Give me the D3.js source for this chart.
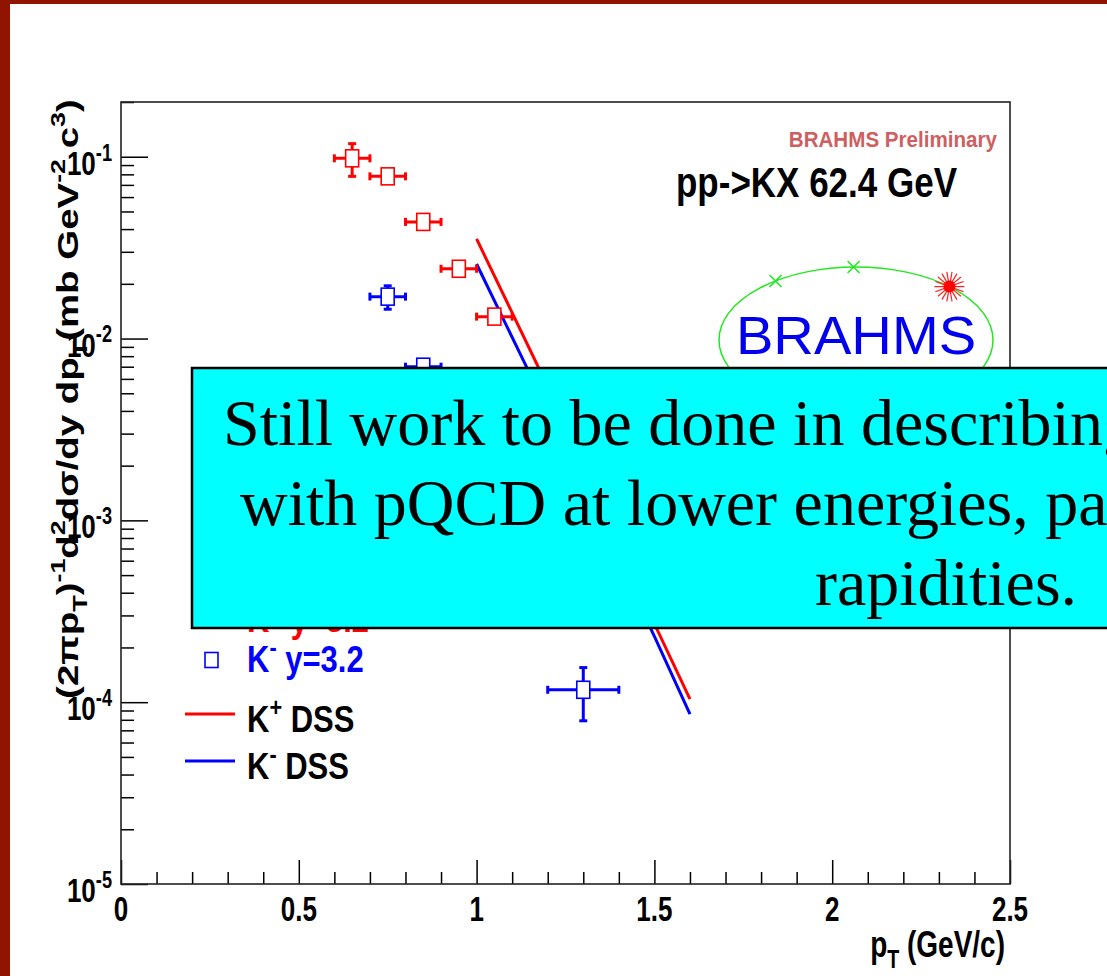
<!DOCTYPE html>
<html>
<head>
<meta charset="utf-8">
<script src="https://cdn.jsdelivr.net/npm/d3@7"></script>
<style>
  html, body { margin: 0; padding: 0; background: #fff; overflow: hidden; }
  svg { display: block; }
</style>
</head>
<body>
<svg id="chart" width="1107" height="976"></svg>
<script>
// data
const kPlusPt = [0.65, 0.75, 0.85, 0.95, 1.05];
const kPlusY  = [0.098, 0.078, 0.0438, 0.0242, 0.0132];
const kPlusEx = [0.05, 0.05, 0.05, 0.05, 0.05];
const kPlusEy = [0.02, 0.005, 0.003, 0.0015, 0.0008];

const kMinusPt = [0.75, 0.85, 1.3];
const kMinusY  = [0.0170, 0.0070, 1.17e-4];
const kMinusEx = [0.05, 0.05, 0.1];
const kMinusEy = [0.0025, 0.0004, 3.8e-5];

const dssPlusPt  = [1.0, 1.17, 1.5, 1.6];
const dssPlusY   = [0.0353, 0.0072, 2.7e-4, 1.04e-4];
const dssMinusPt = [1.0, 1.14, 1.5, 1.6];
const dssMinusY  = [0.0257, 0.0070, 2.3e-4, 8.6e-5];

const yMajorTicks = [1e-5, 1e-4, 1e-3, 1e-2, 1e-1];
const yTickExp = ['-5', '-4', '-3', '-2', '-1'];
const xMajorTicks = [0, 0.5, 1, 1.5, 2, 2.5];
const xTickLabels = ['0', '0.5', '1', '1.5', '2', '2.5'];

const boxLines = ['Still work to be done in describing',
                  'with pQCD at lower energies, particularly',
                  'rapidities.'];

const SY = 1.22;   // plot image is stretched vertically
const RED = '#ff0000', BLUE = '#0000ff';
const SANS = "'Liberation Sans', Arial, Helvetica, sans-serif";

const svg = d3.select('#chart');
const frame = { left: 121, top: 102, right: 1010, bottom: 884 };

// slide background with dark red edge
svg.append('rect').attr('width', 1107).attr('height', 976).attr('fill', '#911400');
svg.append('rect').attr('x', 10).attr('y', 4).attr('width', 1097).attr('height', 972).attr('fill', '#fff');

const x = d3.scaleLinear().domain([0, 2.5]).range([frame.left, frame.right]);
const y = d3.scaleLog().domain([1e-5, 0.2]).range([frame.bottom, frame.top]);

// minor ticks
const yMinorTicks = [];
for (let e = -5; e <= -1; e++) for (let k = 2; k <= 9; k++) {
  const v = k * Math.pow(10, e);
  if (v <= 0.2) yMinorTicks.push(v);
}
const xMinorTicks = d3.range(0, 26).map(i => i / 10).filter(v => !xMajorTicks.includes(+v.toFixed(1)));

function cleanAxis(g) {
  g.select('.domain').remove();
  g.selectAll('line').attr('stroke', '#000').attr('stroke-width', 1.5);
}

svg.append('g').attr('transform', `translate(${frame.left},0)`)
  .call(d3.axisLeft(y).tickValues(yMajorTicks).tickSize(-27).tickFormat(''))
  .call(cleanAxis);
svg.append('g').attr('transform', `translate(${frame.left},0)`)
  .call(d3.axisLeft(y).tickValues(yMinorTicks).tickSize(-13).tickFormat(''))
  .call(cleanAxis);
svg.append('g').attr('transform', `translate(0,${frame.bottom})`)
  .call(d3.axisBottom(x).tickValues(xMajorTicks).tickSize(-24).tickFormat(''))
  .call(cleanAxis);
svg.append('g').attr('transform', `translate(0,${frame.bottom})`)
  .call(d3.axisBottom(x).tickValues(xMinorTicks).tickSize(-12).tickFormat(''))
  .call(cleanAxis);

svg.append('rect')
  .attr('x', frame.left).attr('y', frame.top)
  .attr('width', frame.right - frame.left).attr('height', frame.bottom - frame.top)
  .attr('fill', 'none').attr('stroke', '#222').attr('stroke-width', 1.6);

// text with sub/superscripts
function rich(sel, parts, base) {
  let shift = 0;
  parts.forEach(([s, kind]) => {
    const target = kind === 'sup' ? -base * 0.42 : kind === 'sub' ? base * 0.3 : 0;
    sel.append('tspan')
      .attr('dy', target - shift)
      .attr('font-size', kind === 'n' ? base : base * 0.7)
      .text(s);
    shift = target;
  });
}

function label(x0, y0, parts, size, opts = {}) {
  const sy = opts.sy || SY;
  const t = svg.append('text')
    .attr('transform', `translate(${x0},${y0}) scale(1,${sy})${opts.rot ? ' rotate(-90)' : ''}`)
    .attr('font-family', SANS)
    .attr('font-weight', opts.weight || 'bold')
    .attr('font-size', size)
    .attr('fill', opts.color || '#000')
    .attr('text-anchor', opts.anchor || 'start');
  rich(t, parts, size);
  return t;
}

// tick labels
yMajorTicks.forEach((v, i) => {
  label(112, y(v) + 18, [['10', 'n'], [yTickExp[i], 'sup']], 26, { anchor: 'end', sy: 1.3 });
});
xMajorTicks.forEach((v, i) => {
  label(x(v), 921, [[xTickLabels[i], 'n']], 26, { anchor: 'middle', sy: 1.35 });
});

// axis titles
label(1005, 957, [['p', 'n'], ['T', 'sub'], [' (GeV/c)', 'n']], 28, { anchor: 'end', sy: 1.35 });

const yTitle = label(78, 399, [
  ['(2πp', 'n'], ['T', 'sub'], [')', 'n'], ['-1', 'sup'], ['d', 'n'], ['2', 'sup'],
  ['dσ/dy dp', 'n'], ['T', 'sub'], ['(mb GeV', 'n'], ['-2', 'sup'], [' c', 'n'], ['3', 'sup'], [')', 'n']
], 30, { anchor: 'middle', rot: true, sy: 1 });
const titleLen = yTitle.node().getComputedTextLength();
yTitle.attr('transform', `translate(78,399) scale(1,${600 / titleLen}) rotate(-90)`);

// labels in the plot
label(997, 147, [['BRAHMS Preliminary', 'n']], 20.6, { anchor: 'end', color: '#cf5f5f', sy: 1.05 });
label(957, 197, [['pp->KX 62.4 GeV', 'n']], 35, { anchor: 'end' });

// BRAHMS logo
const logo = { cx: 856, cy: 340, rx: 137, ry: 73 };
svg.append('ellipse')
  .attr('cx', logo.cx).attr('cy', logo.cy).attr('rx', logo.rx).attr('ry', logo.ry)
  .attr('fill', 'none').attr('stroke', '#1ee81e').attr('stroke-width', 1.5);
[126, 91].forEach(a => {
  const px = logo.cx + logo.rx * Math.cos(a * Math.PI / 180);
  const py = logo.cy - logo.ry * Math.sin(a * Math.PI / 180);
  svg.append('path').attr('d', `M${px - 6},${py - 6}L${px + 6},${py + 6}M${px - 6},${py + 6}L${px + 6},${py - 6}`)
    .attr('stroke', '#1ee81e').attr('stroke-width', 1.5);
});
{
  const a = 47 * Math.PI / 180;
  const px = logo.cx + logo.rx * Math.cos(a), py = logo.cy - logo.ry * Math.sin(a);
  const star = svg.append('g').attr('transform', `translate(${px},${py})`);
  d3.range(0, 360, 20).forEach(d => {
    const r = d * Math.PI / 180;
    star.append('line').attr('x2', 15 * Math.cos(r)).attr('y2', 15 * Math.sin(r))
      .attr('stroke', '#ff2020').attr('stroke-width', 1.2);
  });
  star.append('circle').attr('r', 6).attr('fill', '#ff0000');
}
svg.append('text')
  .attr('transform', 'translate(856,354) scale(1.04,1)')
  .attr('text-anchor', 'middle')
  .attr('font-family', SANS).attr('font-size', 54)
  .attr('fill', '#0000ee')
  .text('BRAHMS');

// DSS curves
const line = d3.line().x(d => x(d[0])).y(d => y(d[1]));
svg.append('path').datum(d3.zip(dssPlusPt, dssPlusY)).attr('d', line)
  .attr('fill', 'none').attr('stroke', RED).attr('stroke-width', 3);
svg.append('path').datum(d3.zip(dssMinusPt, dssMinusY)).attr('d', line)
  .attr('fill', 'none').attr('stroke', BLUE).attr('stroke-width', 3);

// data points with error bars
function drawPoints(pts, vals, exs, eys, color) {
  const g = svg.append('g').attr('stroke', color).attr('stroke-width', 3);
  pts.forEach((p, i) => {
    const cx = x(p), cy = y(vals[i]);
    const x0 = x(p - exs[i]), x1 = x(p + exs[i]);
    g.append('line').attr('x1', x0).attr('x2', x1).attr('y1', cy).attr('y2', cy);
    g.append('line').attr('x1', x0).attr('x2', x0).attr('y1', cy - 4).attr('y2', cy + 4);
    g.append('line').attr('x1', x1).attr('x2', x1).attr('y1', cy - 4).attr('y2', cy + 4);
    const yt = y(vals[i] + eys[i]), yb = y(vals[i] - eys[i]);
    if (cy - yt > 9) {
      g.append('line').attr('x1', cx).attr('x2', cx).attr('y1', yt).attr('y2', yb);
      g.append('line').attr('x1', cx - 4).attr('x2', cx + 4).attr('y1', yt).attr('y2', yt);
      g.append('line').attr('x1', cx - 4).attr('x2', cx + 4).attr('y1', yb).attr('y2', yb);
    }
    g.append('rect').attr('x', cx - 6.5).attr('y', cy - 8.5).attr('width', 13).attr('height', 17)
      .attr('fill', '#fff').attr('stroke-width', 1.6);
  });
}
drawPoints(kPlusPt, kPlusY, kPlusEx, kPlusEy, RED);
drawPoints(kMinusPt, kMinusY, kMinusEx, kMinusEy, BLUE);

// legend
const legendItems = [
  { kind: 'marker', color: RED, sign: '+', text: ' y=3.2', base: 632 },
  { kind: 'marker', color: BLUE, sign: '-', text: ' y=3.2', base: 672 },
  { kind: 'line', color: RED, sign: '+', text: ' DSS', base: 732, textColor: '#000' },
  { kind: 'line', color: BLUE, sign: '-', text: ' DSS', base: 779, textColor: '#000' }
];
legendItems.forEach(it => {
  const my = it.base - 12;
  if (it.kind === 'marker') {
    svg.append('rect').attr('x', 205).attr('y', my - 7.5).attr('width', 13).attr('height', 15)
      .attr('fill', '#fff').attr('stroke', it.color).attr('stroke-width', 1.6);
  } else {
    svg.append('line').attr('x1', 185).attr('x2', 235).attr('y1', my - 6).attr('y2', my - 6)
      .attr('stroke', it.color).attr('stroke-width', 3);
  }
  label(247, it.base, [['K', 'n'], [it.sign, 'sup'], [it.text, 'n']], 31, { color: it.textColor || it.color });
});

// overlay box from the slide
svg.append('rect')
  .attr('x', 192).attr('y', 368).attr('width', 1100).attr('height', 260)
  .attr('fill', '#00ffff').attr('stroke', '#000').attr('stroke-width', 2.5);
const boxPos = [[223, 445], [240, 525], [815, 605]];
boxLines.forEach((s, i) => {
  svg.append('text')
    .attr('x', boxPos[i][0]).attr('y', boxPos[i][1])
    .attr('font-family', "'Liberation Serif', 'Times New Roman', serif")
    .attr('font-size', 66)
    .attr('fill', '#000')
    .text(s);
});
</script>
</body>
</html>
